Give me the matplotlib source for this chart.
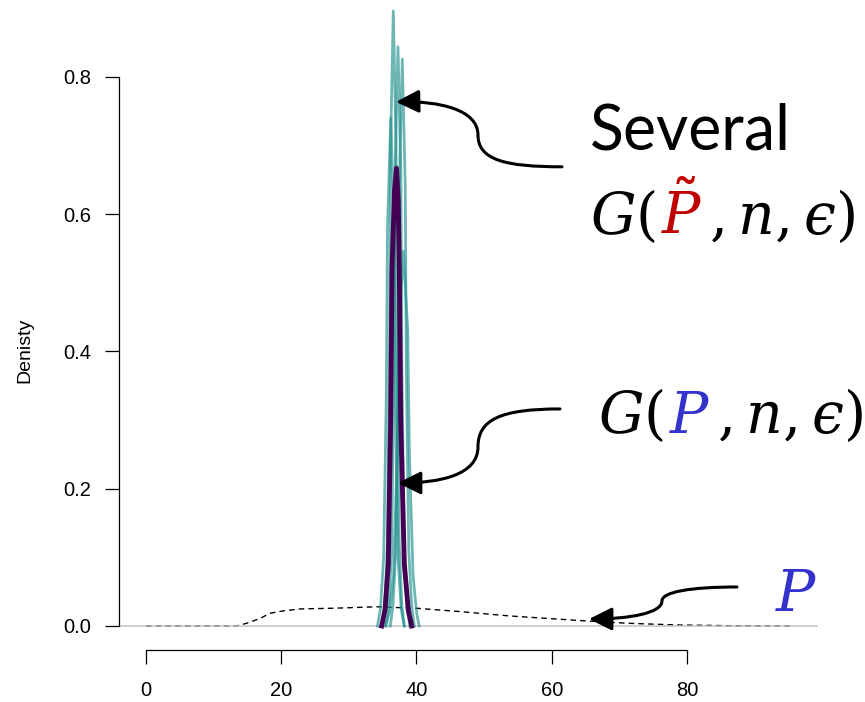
import matplotlib
matplotlib.use('Agg')
import matplotlib.pyplot as plt
from matplotlib.path import Path
from matplotlib.patches import FancyArrowPatch
from matplotlib.offsetbox import TextArea, HPacker, AnnotationBbox

plt.rcParams['font.family'] = ['Liberation Sans', 'DejaVu Sans']
plt.rcParams['mathtext.fontset'] = 'custom'
plt.rcParams['mathtext.it'] = 'DejaVu Serif:italic'
plt.rcParams['mathtext.rm'] = 'DejaVu Serif'

# P : wide density (dashed)
p_x = [0.0, 13.4, 14.9, 16.9, 18.3, 20.3, 22.8, 28.2, 34.1, 40.0, 46.4, 53.8, 61.2, 65.2, 71.1, 78.5, 87.0, 95.5]
p_y = [0.0, 0.0, 0.004, 0.011, 0.0185, 0.022, 0.0248, 0.026, 0.028, 0.0258, 0.021, 0.0146, 0.0098, 0.0073, 0.004, 0.0015, 0.0003, 0.0]

# G(P, n, eps)
g_x = [34.85, 35.34, 35.83, 36.18, 36.38, 36.75, 37.05, 37.3, 37.46, 37.66, 38.2, 38.79, 39.29]
g_y = [0.0, 0.023, 0.09, 0.30, 0.52, 0.635, 0.667, 0.62, 0.52, 0.30, 0.09, 0.023, 0.0]

# several G(P~, n, eps)
gt_x = [
    [34.94, 35.31, 35.70, 36.02, 36.17, 36.57, 36.97, 37.12, 37.44, 37.83, 38.20],
    [35.52, 35.92, 36.33, 36.68, 36.83, 37.26, 37.69, 37.84, 38.19, 38.60, 39.00],
    [36.12, 36.52, 36.94, 37.30, 37.46, 37.90, 38.34, 38.50, 38.86, 39.28, 39.68],
    [34.22, 34.67, 35.14, 35.53, 35.71, 36.20, 36.69, 36.87, 37.26, 37.73, 38.18],
    [35.37, 35.98, 36.61, 37.15, 37.39, 38.05, 38.71, 38.95, 39.49, 40.02, 40.40],
]
gt_y = [
    [0, 0.03, 0.12, 0.40, 0.70, 0.896, 0.70, 0.40, 0.12, 0.03, 0],
    [0, 0.03, 0.11, 0.38, 0.66, 0.844, 0.66, 0.38, 0.11, 0.03, 0],
    [0, 0.03, 0.11, 0.37, 0.64, 0.826, 0.64, 0.37, 0.11, 0.03, 0],
    [0, 0.025, 0.10, 0.33, 0.58, 0.74, 0.58, 0.33, 0.10, 0.025, 0],
    [0, 0.019, 0.074, 0.25, 0.43, 0.546, 0.43, 0.25, 0.074, 0.019, 0],
]

fig = plt.figure(figsize=(8.65, 7.02), dpi=100)
ax = fig.add_axes([119/865, 52/702, 699/865, 650/702])
ax.set_xlim(-3.99, 99.37)
ax.set_ylim(-0.035, 0.912)

ax.plot(p_x, p_y, color='black', lw=1.0, dashes=(4, 3), zorder=1)
ax.axhline(0, color='#bebebe', lw=1.2, alpha=0.85, zorder=2)
for xs, ys in zip(gt_x, gt_y):
    ax.plot(xs, ys, color='#21908C', lw=2.0, alpha=0.65, zorder=3)
ax.plot(g_x, g_y, color='#440154', lw=3.5, zorder=4)

for s in ['top', 'right']:
    ax.spines[s].set_visible(False)
ax.spines['left'].set_bounds(0, 0.8)
ax.spines['bottom'].set_bounds(0, 80)
ax.spines['left'].set_linewidth(0.9)
ax.spines['bottom'].set_linewidth(0.9)
ax.set_xticks([0, 20, 40, 60, 80])
ax.set_yticks([0.0, 0.2, 0.4, 0.6, 0.8])
ax.set_yticklabels(['0.0', '0.2', '0.4', '0.6', '0.8'])
ax.tick_params(axis='y', length=10, width=0.9, pad=10, labelsize=14.5)
ax.tick_params(axis='x', length=10, width=0.9, pad=12, labelsize=14.5)
fig.text(25/865, 1-350/702, 'Denisty', rotation=90, ha='center', va='center', fontsize=14)

# curved arrows
arrows = [
    [(61.52, 0.669), (53.09, 0.669), (49.09, 0.679), (49.09, 0.7155),
     (49.09, 0.752), (43.47, 0.765), (36.97, 0.7636)],
    [(61.22, 0.3162), (52.35, 0.3162), (49.09, 0.3002), (49.09, 0.2608),
     (49.09, 0.22), (43.47, 0.2084), (37.26, 0.2084)],
    [(87.39, 0.0568), (80.44, 0.0568), (76.30, 0.0495), (76.30, 0.0364),
     (76.30, 0.0189), (71.57, 0.0102), (65.51, 0.0102)],
]
codes = [Path.MOVETO] + [Path.CURVE4] * 6
for verts in arrows:
    arr = FancyArrowPatch(path=Path(verts, codes), arrowstyle='-|>,head_length=0.7,head_width=0.35',
                          mutation_scale=20, lw=2.2, color='black', transform=ax.transData,
                          clip_on=False, zorder=5)
    ax.add_patch(arr)

fig.text(590/865, 1-150/702, 'Several', fontfamily='Lato', fontsize=45, va='baseline')


def mathlabel(parts, x, y):
    boxes = [TextArea(s, textprops=dict(color=c, fontsize=41)) for s, c in parts]
    pack = HPacker(children=boxes, align='baseline', pad=0, sep=4)
    ab = AnnotationBbox(pack, (x, y), xycoords='figure pixels', box_alignment=(0, 0.5),
                        frameon=False, pad=0)
    fig.add_artist(ab)


mathlabel([(r'$G($', 'black'), (r'$\tilde{P}$', '#c00000'), ('$,n,\u03f5)$', 'black')], 590, 702-215)
mathlabel([(r'$G($', 'black'), (r'$P$', '#3333cc'), ('$,n,\u03f5)$', 'black')], 598, 702-416)
fig.text(775/865, 1-611/702, r'$P$', color='#3333cc', fontsize=42, va='baseline')

fig.savefig('out.png', dpi=100)
